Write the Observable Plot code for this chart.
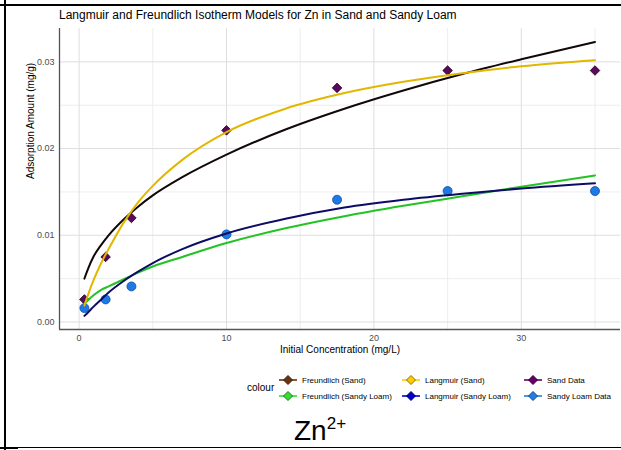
<!DOCTYPE html>
<html>
<head>
<meta charset="utf-8">
<script src="https://cdn.jsdelivr.net/npm/d3@7"></script>
<script src="https://cdn.jsdelivr.net/npm/@observablehq/plot@0.6"></script>
<style>
  html, body { margin: 0; padding: 0; background: #fff; }
  #page { position: relative; width: 621px; height: 450px; overflow: hidden; background: #fff;
          font-family: "Liberation Sans", Arial, sans-serif; }
  .bline { position: absolute; background: #000; }
  #title { position: absolute; left: 59px; top: 9px; font-size: 12px; line-height: 12px; color: #000; white-space: nowrap; }
  #chart { position: absolute; left: 0; top: 24px; }
  #legend { position: absolute; left: 0; top: 372px; width: 621px; height: 32px; }
  #legend .ltitle { position: absolute; left: 247px; top: 0; height: 32px; line-height: 32px; font-size: 10px; color: #000; }
  #legend .item { position: absolute; height: 16px; display: flex; align-items: center; font-size: 8px; color: #000; white-space: nowrap; }
  #legend .item svg { margin-right: 5px; }
  #ion { position: absolute; left: 294px; top: 417px; font-size: 28px; line-height: 28px; color: #000; }
  #ion sup { font-size: 17px; vertical-align: 11px; line-height: 0; }
</style>
</head>
<body>
<div id="page">
  <div class="bline" style="left:0;top:4px;width:621px;height:1.5px"></div>
  <div class="bline" style="left:0;top:3.5px;width:18px;height:2px"></div>
  <div class="bline" style="left:4px;top:0;width:2px;height:450px"></div>
  <div class="bline" style="left:0;top:446.5px;width:621px;height:1.5px"></div>
  <div class="bline" style="left:0;top:446.5px;width:18px;height:2px"></div>
  <div id="title"></div>
  <div id="chart"></div>
  <div id="legend"></div>
  <div id="ion">Zn<sup>2+</sup></div>
</div>
<script>
// ---- data ----
const titleText = "Langmuir and Freundlich Isotherm Models for Zn in Sand and Sandy Loam";
const xLabel = "Initial Concentration (mg/L)";
const yLabel = "Adsorption Amount (mg/g)";
const legendTitle = "colour";

const conc = [0.36, 1.8, 3.55, 10, 17.5, 25, 35];
const sandData = [0.0026, 0.0075, 0.0120, 0.0221, 0.0270, 0.0290, 0.0290];
const sandyLoamData = [0.0016, 0.0026, 0.0041, 0.0101, 0.0141, 0.0151, 0.0151];

const modelConc = [0.36, 0.6, 1, 1.5, 2, 3, 4, 5, 7, 10, 14, 18, 22, 26, 30, 35];
const freundlichSand = [0.0050, 0.0061, 0.0076, 0.0089, 0.0100, 0.0118, 0.0133, 0.0146, 0.0167, 0.0193, 0.0222, 0.0246, 0.0267, 0.0286, 0.0303, 0.0323];
const freundlichLoam = [0.0021, 0.0025, 0.0031, 0.0037, 0.0041, 0.0049, 0.0057, 0.0064, 0.0075, 0.0091, 0.0108, 0.0122, 0.0134, 0.0145, 0.0156, 0.0169];
const langmuirSand = [0.0019, 0.0031, 0.0049, 0.0068, 0.0084, 0.0114, 0.0138, 0.0157, 0.0187, 0.0219, 0.0246, 0.0264, 0.0277, 0.0287, 0.0295, 0.0302];
const langmuirLoam = [0.0007, 0.0011, 0.0018, 0.0026, 0.0034, 0.0047, 0.0058, 0.0068, 0.0084, 0.0102, 0.0119, 0.0132, 0.0141, 0.0148, 0.0154, 0.0160];

const xTicks = [0, 10, 20, 30];
const xMinor = [5, 15, 25, 35];
const yTicks = [0, 0.01, 0.02, 0.03];
const yMinor = [0.005, 0.015, 0.025];

const legendLabels = ["Freundlich (Sand)", "Freundlich (Sandy Loam)", "Langmuir (Sand)", "Langmuir (Sandy Loam)", "Sand Data", "Sandy Loam Data"];
const legendColors = ["#6b3310", "#33dd33", "#ffcc00", "#0000cc", "#660066", "#1e7fe6"];

// plotted line colours as seen in the picture
const lineSeries = [
  {name: "Freundlich (Sand)", values: freundlichSand, color: "#120808"},
  {name: "Freundlich (Sandy Loam)", values: freundlichLoam, color: "#22c322"},
  {name: "Langmuir (Sand)", values: langmuirSand, color: "#e2b700"},
  {name: "Langmuir (Sandy Loam)", values: langmuirLoam, color: "#0c0c66"}
];

// ---- build ----
document.getElementById("title").textContent = titleText;

const xDomain = [-1.33, 36.73];
const yDomain = [-0.00087, 0.03385];

const lineRows = lineSeries.flatMap(s => modelConc.map((c, i) => ({c, v: s.values[i], name: s.name})));
const sandRows = conc.map((c, i) => ({c, v: sandData[i]}));
const loamRows = conc.map((c, i) => ({c, v: sandyLoamData[i]}));

const marks = [
  Plot.ruleX(xMinor, {stroke: "#ebebeb", strokeWidth: 0.9}),
  Plot.ruleY(yMinor, {stroke: "#ebebeb", strokeWidth: 0.9}),
  Plot.ruleX(xTicks, {stroke: "#dedede", strokeWidth: 1}),
  Plot.ruleY(yTicks, {stroke: "#dedede", strokeWidth: 1}),
  Plot.ruleX([xDomain[0]], {stroke: "#555", strokeWidth: 1.3}),
  Plot.ruleY([yDomain[0]], {stroke: "#555", strokeWidth: 1.3}),
  Plot.dot(sandRows, {x: "c", y: "v", symbol: "square", rotate: 45, r: 3.8, fill: "#5a0a5a", stroke: "#2a002a", strokeWidth: 0.8}),
  Plot.dot(loamRows, {x: "c", y: "v", r: 4.5, fill: "#1e78e6", stroke: "#0d4fa0", strokeWidth: 0.8}),
  ...lineSeries.map(s => Plot.line(lineRows.filter(d => d.name === s.name), {x: "c", y: "v", stroke: s.color, strokeWidth: 2, curve: "monotone-x"})),
  Plot.text([xLabel], {frameAnchor: "bottom", dy: 23, fontSize: 10, fill: "#000"}),
  Plot.text([yLabel], {frameAnchor: "left", dx: -29, rotate: -90, fontSize: 10, fill: "#000"})
];

const chart = Plot.plot({
  width: 621,
  height: 340,
  marginLeft: 59,
  marginRight: 1,
  marginTop: 4,
  marginBottom: 35,
  style: {fontFamily: "'Liberation Sans', Arial, sans-serif", fontSize: "9px", color: "#4d4d4d", background: "transparent", overflow: "visible"},
  x: {domain: xDomain, ticks: xTicks, tickSize: 0, tickPadding: 5.5, label: null, tickFormat: d3.format("d")},
  y: {domain: yDomain, ticks: yTicks, tickSize: 0, tickPadding: 5, label: null, tickFormat: d3.format(".2f")},
  marks
});
document.getElementById("chart").appendChild(chart);

// legend
const legend = document.getElementById("legend");
const lt = document.createElement("div");
lt.className = "ltitle";
lt.textContent = legendTitle;
legend.appendChild(lt);
const colLeft = [279, 402, 524];
legendLabels.forEach((lab, i) => {
  const col = Math.floor(i / 2), row = i % 2;
  const item = document.createElement("div");
  item.className = "item";
  item.style.left = colLeft[col] + "px";
  item.style.top = (row * 16) + "px";
  const c = legendColors[i];
  const stroke = d3.color(c).darker(1.6).formatHex();
  item.innerHTML = `<svg width="18" height="12" viewBox="0 0 18 12">
      <line x1="0" y1="6" x2="18" y2="6" stroke="${c}" stroke-width="1.6"/>
      <polygon points="9,1.5 13.5,6 9,10.5 4.5,6" fill="${c}" stroke="${stroke}" stroke-width="1"/>
    </svg><span>${lab}</span>`;
  legend.appendChild(item);
});
</script>
</body>
</html>
